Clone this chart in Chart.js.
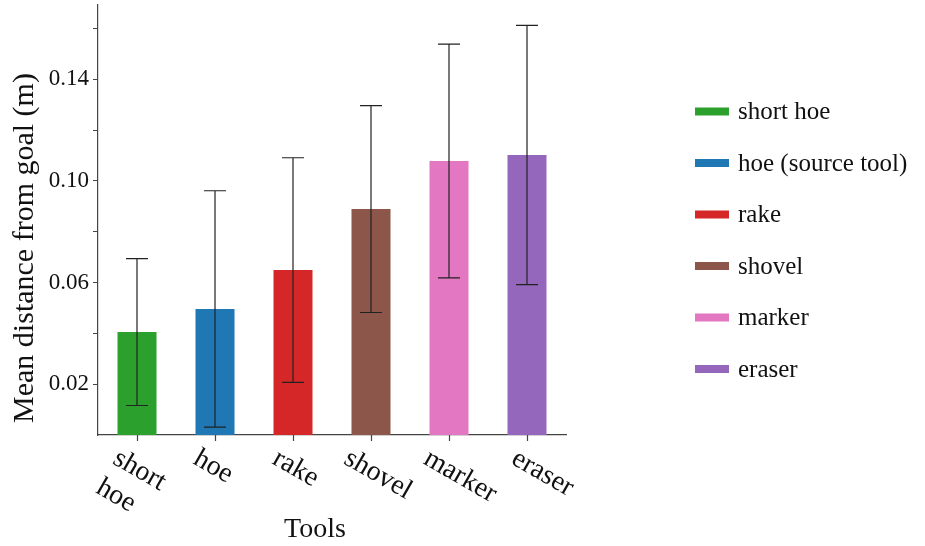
<!DOCTYPE html>
<html>
<head>
<meta charset="utf-8">
<script src="https://cdn.jsdelivr.net/npm/chart.js@4/dist/chart.umd.min.js"></script>
<style>
  body { margin: 0; background: #fff; }
</style>
</head>
<body>
<canvas id="myChart" width="925" height="546"></canvas>
<script>
const tools = [["short", "hoe"], "hoe", "rake", "shovel", "marker", "eraser"];
const legendNames = ["short hoe", "hoe (source tool)", "rake", "shovel", "marker", "eraser"];
const meanDist = [0.0405, 0.0496, 0.0649, 0.0889, 0.1078, 0.1102];
const errDist = [0.0289, 0.0465, 0.0442, 0.0407, 0.046, 0.051];
const barColors = ["#2ca02c", "#1f77b4", "#d62728", "#8c564b", "#e377c2", "#9467bd"];
const yTickVals = [0.02, 0.04, 0.06, 0.08, 0.1, 0.12, 0.14, 0.16];
const yTickLabels = ["0.02", "", "0.06", "", "0.10", "", "0.14", ""];

const serif = "'Liberation Serif', 'Times New Roman', serif";
const ink = "#111";

// error bars, x tick marks + rotated labels, axis titles and legend
const extras = {
  id: "extras",
  afterDatasetsDraw(chart) {
    const ctx = chart.ctx;
    const y = chart.scales.y;
    const bars = chart.getDatasetMeta(0).data;
    ctx.save();
    ctx.strokeStyle = "#222";
    ctx.lineWidth = 1.2;
    bars.forEach((bar, i) => {
      const top = y.getPixelForValue(meanDist[i] + errDist[i]);
      const bot = y.getPixelForValue(meanDist[i] - errDist[i]);
      ctx.beginPath();
      ctx.moveTo(bar.x, top);
      ctx.lineTo(bar.x, bot);
      ctx.moveTo(bar.x - 11, top);
      ctx.lineTo(bar.x + 11, top);
      ctx.moveTo(bar.x - 11, bot);
      ctx.lineTo(bar.x + 11, bot);
      ctx.stroke();
    });
    ctx.restore();
  },
  afterDraw(chart) {
    const ctx = chart.ctx;
    const x = chart.scales.x;
    const base = chart.chartArea.bottom;
    ctx.save();

    // tick marks under each bar
    ctx.strokeStyle = "#444";
    ctx.lineWidth = 1.2;
    chart.data.labels.forEach((lab, i) => {
      const px = Math.round(x.getPixelForTick(i)) + 0.5;
      ctx.beginPath();
      ctx.moveTo(px, base);
      ctx.lineTo(px, base + 6);
      ctx.stroke();
    });

    // x tick labels, turned 30 degrees clockwise
    // (in the source they drift a little to the right along the axis)
    ctx.fillStyle = ink;
    const fs = 28;
    const lineH = fs * 1.2;
    const ang = Math.PI / 6;
    const drift = 4.3;
    ctx.font = fs + "px " + serif;
    chart.data.labels.forEach((lab, i) => {
      const lines = Array.isArray(lab) ? lab : [lab];
      const w = Math.max(...lines.map(t => ctx.measureText(t).width));
      const h = lines.length * lineH;
      const corners = [[0, 0], [w, 0], [0, h], [w, h]].map(([px, py]) => [
        px * Math.cos(ang) - py * Math.sin(ang),
        px * Math.sin(ang) + py * Math.cos(ang)
      ]);
      const xs = corners.map(c => c[0]);
      const ys = corners.map(c => c[1]);
      const cx = x.getPixelForTick(i) + drift * i - 6;
      const ox = cx - (Math.min(...xs) + Math.max(...xs)) / 2;
      const oy = base + 7 - Math.min(...ys);
      ctx.save();
      ctx.translate(ox, oy);
      ctx.rotate(ang);
      ctx.textAlign = "left";
      ctx.textBaseline = "middle";
      lines.forEach((t, k) => ctx.fillText(t, 0, (k + 0.5) * lineH));
      ctx.restore();
    });

    // axis titles
    ctx.font = "28px " + serif;
    ctx.textAlign = "center";
    ctx.textBaseline = "alphabetic";
    ctx.fillText("Tools", 315, 537);
    ctx.save();
    ctx.translate(33, 248);
    ctx.rotate(-Math.PI / 2);
    ctx.font = "30px " + serif;
    ctx.fillText("Mean distance from goal (m)", 0, 0);
    ctx.restore();

    // legend
    ctx.font = "25px " + serif;
    ctx.textAlign = "left";
    ctx.textBaseline = "middle";
    legendNames.forEach((name, i) => {
      const cy = 111.5 + i * 51.5;
      ctx.fillStyle = barColors[i];
      ctx.fillRect(695, cy - 4, 34, 8);
      ctx.fillStyle = ink;
      ctx.fillText(name, 738, cy + 1);
    });
    ctx.restore();
  }
};

new Chart(document.getElementById("myChart").getContext("2d"), {
  type: "bar",
  data: {
    labels: tools,
    datasets: [
      {
        data: meanDist,
        backgroundColor: barColors,
        borderWidth: 0,
        barPercentage: 0.5,
        categoryPercentage: 1.0
      }
    ]
  },
  options: {
    responsive: false,
    animation: false,
    devicePixelRatio: 1,
    layout: { padding: { top: 5, right: 359, left: 0, bottom: 0 } },
    plugins: {
      legend: { display: false },
      tooltip: { enabled: false }
    },
    scales: {
      x: {
        grid: { display: false },
        border: { display: true, color: "#444", width: 1.2 },
        ticks: { display: false },
        afterFit(scale) {
          scale.height = 111;
          scale.paddingLeft = 0;
          scale.paddingRight = 0;
        }
      },
      y: {
        min: 0,
        max: 0.1692,
        grid: { drawOnChartArea: false, drawTicks: true, tickLength: 5, color: "#444" },
        border: { display: true, color: "#444", width: 1.2 },
        afterBuildTicks(scale) {
          scale.ticks = yTickVals.map(v => ({ value: v }));
        },
        ticks: {
          padding: 4,
          color: ink,
          font: { family: serif, size: 23 },
          callback: (v, i) => yTickLabels[i]
        },
        afterFit(scale) {
          scale.width = 98;
          scale.paddingTop = 0;
          scale.paddingBottom = 0;
        }
      }
    }
  },
  plugins: [extras]
});
</script>
</body>
</html>
